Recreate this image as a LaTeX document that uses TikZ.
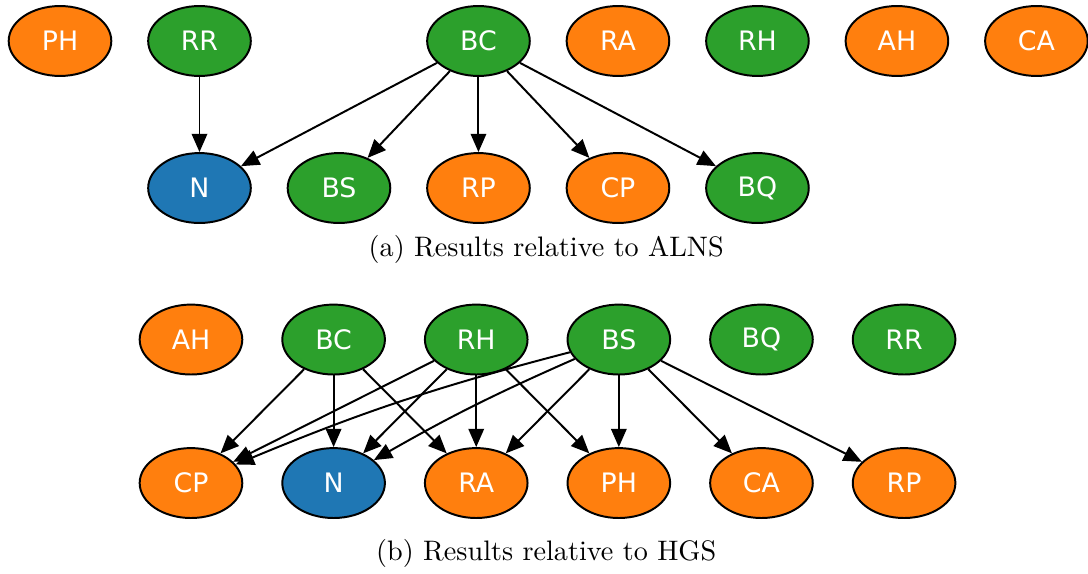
\documentclass[tikz,border=0pt]{standalone}
\usepackage{fontspec}
\newfontfamily\algofont{DejaVu Sans}
\usetikzlibrary{shapes.geometric,arrows.meta,positioning}
\definecolor{tabblue}{HTML}{1F77B4}
\definecolor{taborange}{HTML}{FF7F0E}
\definecolor{tabgreen}{HTML}{2CA02C}
\tikzset{
  algo/.style={ellipse,draw=black,line width=0.7pt,minimum width=36.4pt,minimum height=24.8pt,inner sep=0pt,text=white,font=\algofont\fontsize{9.5}{11}\selectfont},
  worse/.style={algo,fill=taborange},
  better/.style={algo,fill=tabgreen},
  base/.style={algo,fill=tabblue},
  edge/.style={-{Triangle[length=6.5pt,width=5.5pt]},line width=0.7pt}
}
\begin{document}
\begin{tikzpicture}
\useasboundingbox (0,0) rectangle (13.564,-7.144);
% (a) relative to ALNS
\node[worse]  (aPH) at (0.748,-0.511) {PH};
\node[better] (aRR) at (2.487,-0.511) {RR};
\node[better] (aBC) at (5.965,-0.511) {BC};
\node[worse]  (aRA) at (7.704,-0.511) {RA};
\node[better] (aRH) at (9.443,-0.511) {RH};
\node[worse]  (aAH) at (11.182,-0.511) {AH};
\node[worse]  (aCA) at (12.921,-0.511) {CA};
\node[base]   (aN)  at (2.487,-2.344) {N};
\node[better] (aBS) at (4.226,-2.344) {BS};
\node[worse]  (aRP) at (5.965,-2.344) {RP};
\node[worse]  (aCP) at (7.704,-2.344) {CP};
\node[better] (aBQ) at (9.443,-2.344) {BQ};
\draw[edge] (aRR) -- (aN);
\foreach \t in {aN,aBS,aRP,aCP,aBQ}
\draw[edge] (aBC) -- (\t);
\node (capa) at (6.81,-3.104) {(a) Results relative to ALNS};
% (b) relative to HGS
\node[worse]  (bAH) at (2.381,-4.233) {AH};
\node[better] (bBC) at (4.159,-4.233) {BC};
\node[better] (bRH) at (5.937,-4.233) {RH};
\node[better] (bBS) at (7.715,-4.233) {BS};
\node[better] (bBQ) at (9.493,-4.233) {BQ};
\node[better] (bRR) at (11.271,-4.233) {RR};
\node[worse]  (bCP) at (2.381,-6.022) {CP};
\node[base]   (bN)  at (4.159,-6.022) {N};
\node[worse]  (bRA) at (5.937,-6.022) {RA};
\node[worse]  (bPH) at (7.715,-6.022) {PH};
\node[worse]  (bCA) at (9.493,-6.022) {CA};
\node[worse]  (bRP) at (11.271,-6.022) {RP};
\foreach \t in {bCP,bN,bRA}
\draw[edge] (bBC) -- (\t);
\foreach \t in {bCP,bN,bRA,bPH}
\draw[edge] (bRH) -- (\t);
\draw[edge] (bBS) to[bend right=4] (bCP);
\draw[edge] (bBS) to[bend right=3] (bN);
\foreach \t in {bRA,bPH,bCA,bRP}
\draw[edge] (bBS) -- (\t);
\node (capb) at (6.81,-6.894) {(b) Results relative to HGS};
\end{tikzpicture}
\end{document}
